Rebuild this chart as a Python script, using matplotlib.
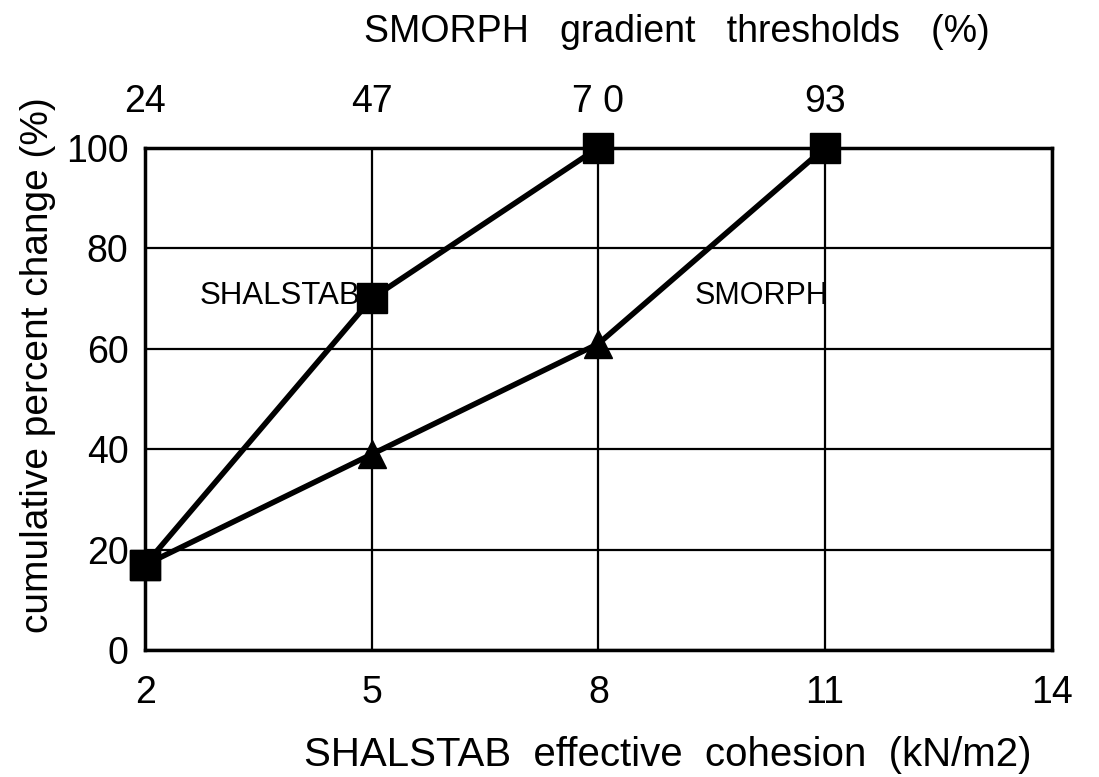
import matplotlib
matplotlib.use("Agg")
import matplotlib.pyplot as plt

plt.rcParams["font.family"] = ["Liberation Sans", "DejaVu Sans"]

# SHALSTAB effective cohesion (kN/m2) and the matching SMORPH gradient thresholds (%)
cohesion = [2, 5, 8, 11]
gradient_labels = ["24", "47", "7 0", "93"]

shalstab_x = [2, 5, 8]
shalstab_y = [17, 70, 100]

smorph_x = [2, 5, 8, 11]
smorph_y = [17, 39, 61, 100]
smorph_markers = ["s", "^", "^", "s"]

x_ticks = [2, 5, 8, 11, 14]
y_ticks = [0, 20, 40, 60, 80, 100]

fig = plt.figure(figsize=(10.99, 7.77), dpi=100)
ax = fig.add_axes([0.132, 0.163, 0.825, 0.647])

ax.set_xlim(2, 14)
ax.set_ylim(0, 100)
ax.set_xticks(x_ticks)
ax.set_yticks(y_ticks)
ax.grid(True, color="black", lw=1.6)
ax.set_axisbelow(True)
for sp in ax.spines.values():
    sp.set_linewidth(2.5)
ax.tick_params(axis="x", length=0, labelsize=27, pad=18)
ax.tick_params(axis="y", length=0, labelsize=27, pad=12)

lw = 4.0
ax.plot(shalstab_x, shalstab_y, color="black", lw=lw, zorder=3, clip_on=False)
ax.plot(shalstab_x, shalstab_y, "s", color="black", ms=21, zorder=4, clip_on=False)
ax.plot(smorph_x, smorph_y, color="black", lw=lw, zorder=3, clip_on=False)
for x, y, m in zip(smorph_x, smorph_y, smorph_markers):
    ax.plot(x, y, m, color="black", ms=21 if m == "s" else 20, zorder=4, clip_on=False)

ax.text(4.85, 70.5, "SHALSTAB", fontsize=22.5, ha="right", va="center", zorder=5)
ax.text(11.05, 70.5, "SMORPH", fontsize=22, ha="right", va="center", zorder=5)

ax.set_xlabel("SHALSTAB  effective  cohesion  (kN/m2)", fontsize=29)
ax.xaxis.set_label_coords(0.576, -0.17)
ax.set_ylabel("cumulative percent change (%)", fontsize=28)
ax.yaxis.set_label_coords(-0.098, 0.568)

top = ax.twiny()
top.set_xlim(ax.get_xlim())
top.set_xticks(cohesion)
top.set_xticklabels(gradient_labels)
top.tick_params(length=0, labelsize=27, pad=20)
for sp in top.spines.values():
    sp.set_visible(False)
top.set_xlabel("SMORPH   gradient   thresholds   (%)", fontsize=27)
top.xaxis.set_label_coords(0.587, 1.21)

fig.savefig("out.png", dpi=100)
